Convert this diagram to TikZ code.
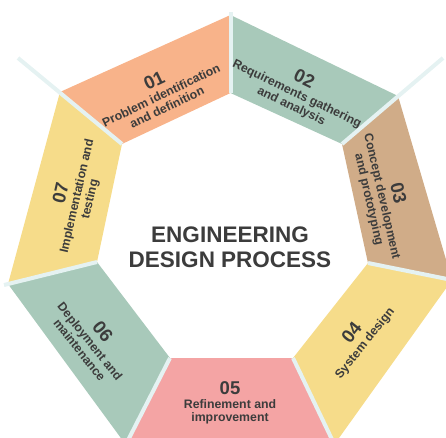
\documentclass[tikz,border=0pt]{standalone}
\usepackage{fontspec}
\setmainfont{Liberation Sans}
\definecolor{cA}{HTML}{F8B38A}
\definecolor{cB}{HTML}{A8C9BA}
\definecolor{cC}{HTML}{D0AC88}
\definecolor{cD}{HTML}{F6DC8A}
\definecolor{cE}{HTML}{F4A4A4}
\definecolor{sepc}{HTML}{E5F2F2}
\definecolor{txt}{HTML}{3C3C3C}
\tikzset{
  sepline/.style={draw=sepc, line width=4pt},
  lbl/.style={align=center, text=txt, inner sep=0pt, font=\fontsize{12.3}{13.3}\selectfont\bfseries},
  ttl/.style={align=center, text=txt, inner sep=0pt, font=\fontsize{22.5}{24.5}\selectfont\bfseries},
}
\newcommand\segnum[1]{{\fontsize{18.5}{18.5}\selectfont #1}}
\begin{document}
\begin{tikzpicture}[x=1pt,y=-1pt]
\useasboundingbox (0,0) rectangle (446,437);
\begin{scope}
\clip (0,0) rectangle (446,437);
% inner vertices
\coordinate (I0) at (230.5,93);
\coordinate (I1) at (342,144);
\coordinate (I2) at (368,263);
\coordinate (I3) at (293,358);
\coordinate (I4) at (170,358);
\coordinate (I5) at (97,262);
\coordinate (I6) at (122,144);
% outer vertices
\coordinate (O0) at (230.5,15);
\coordinate (O1) at (398,96);
\coordinate (O2) at (452,280);
\coordinate (O3) at (334,445);
\coordinate (O4) at (126,445);
\coordinate (O5) at (8,284);
\coordinate (O6) at (60,92);
% separator ends
\coordinate (S0) at (230.5,12);
\coordinate (S1) at (443,58);
\coordinate (S2) at (462,282);
\coordinate (S3) at (338,452);
\coordinate (S4) at (122,452);
\coordinate (S5) at (4,285);
\coordinate (S6) at (18,58);
% segments
\fill[cA] (O6) -- (O0) -- (I0) -- (I6) -- cycle;
\fill[cB] (O0) -- (O1) -- (I1) -- (I0) -- cycle;
\fill[cC] (O1) -- (O2) -- (I2) -- (I1) -- cycle;
\fill[cD] (O2) -- (O3) -- (I3) -- (I2) -- cycle;
\fill[cE] (O3) -- (O4) -- (I4) -- (I3) -- cycle;
\fill[cB] (O4) -- (O5) -- (I5) -- (I4) -- cycle;
\fill[cD] (O5) -- (O6) -- (I6) -- (I5) -- cycle;
% separators
\draw[sepline] (I0) -- (S0);
\draw[sepline] (I1) -- (S1);
\draw[sepline] (I2) -- (S2);
\draw[sepline] (I3) -- (S3);
\draw[sepline] (I4) -- (S4);
\draw[sepline] (I5) -- (S5);
\draw[sepline] (I6) -- (S6);
\end{scope}
% labels
\node[lbl, rotate=25.7] (t1) at (160,93) {\segnum{01}\\[1pt]Problem identification\\and definition};
\node[lbl, rotate=-25.7] (t2) at (298,92) {\segnum{02}\\[1pt]Requirements gathering\\and analysis};
\node[lbl, rotate=-77.1] (t3) at (384,196) {\segnum{03}\\[1pt]Concept development\\and prototyping};
\node[lbl, rotate=51.4] (t4) at (358,338) {\segnum{04}\\[1pt]System design};
\node[lbl] (t5) at (230,403) {\segnum{05}\\[1pt]Refinement and\\improvement};
\node[lbl, rotate=-51.4] (t6) at (92,340) {\segnum{06}\\[1pt]Deployment and\\maintenance};
\node[lbl, rotate=77.1] (t7) at (75,196) {\segnum{07}\\[1pt]Implementation and\\testing};
\node[ttl] (title) at (230,247) {ENGINEERING\\DESIGN PROCESS};
\end{tikzpicture}
\end{document}
